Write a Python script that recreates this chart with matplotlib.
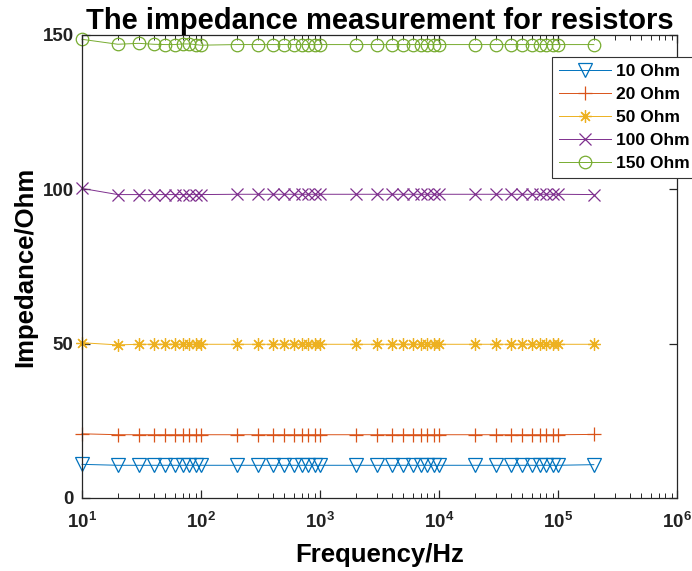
import matplotlib
matplotlib.use("Agg")
import matplotlib.pyplot as plt
import numpy as np
from matplotlib.ticker import FixedLocator, FuncFormatter, LogLocator, NullFormatter

plt.rcParams['font.family'] = ['Liberation Sans', 'DejaVu Sans']
plt.rcParams['font.weight'] = 'bold'
plt.rcParams['mathtext.fontset'] = 'custom'
plt.rcParams['mathtext.rm'] = 'Liberation Sans:bold'
plt.rcParams['mathtext.bf'] = 'Liberation Sans:bold'

# Measurement frequencies (Hz)
freq = [10, 20, 30, 40, 50, 60, 70, 80, 90, 100,
        200, 300, 400, 500, 600, 700, 800, 900, 1000,
        2000, 3000, 4000, 5000, 6000, 7000, 8000, 9000, 10000,
        20000, 30000, 40000, 50000, 60000, 70000, 80000, 90000, 100000,
        200000]

# Measured impedance (Ohm) for each resistor
z_10 = [10.9] + [10.6] * 36 + [10.8]
z_20 = [20.8] + [20.5] * 36 + [20.6]
z_50 = [50.3] + [49.6] + [49.8] * 35 + [49.8]
z_100 = [100.3] + [98.3] * 9 + [98.4] * 27 + [98.3]
z_150 = [148.6, 147.0, 147.3, 147.0, 146.9, 146.9, 147.1, 147.1, 146.9, 146.7] + [146.9] * 27 + [146.9]

labels = ['10 Ohm', '20 Ohm', '50 Ohm', '100 Ohm', '150 Ohm']
series = [z_10, z_20, z_50, z_100, z_150]
colors = ['#0072BD', '#D95319', '#EDB120', '#7E2F8E', '#77AC30']
markers = ['v', '+', (8, 2, 0), 'x', 'o']
msizes = [10, 10, 9, 8, 9]

fig = plt.figure(figsize=(6.92, 5.71), dpi=100)
ax = fig.add_axes([82 / 692, 1 - 498 / 571, (677 - 82) / 692, (498 - 35) / 571])

for y, lab, c, m, ms in zip(series, labels, colors, markers, msizes):
    ax.plot(freq, y, color=c, marker=m, markersize=ms, linewidth=0.7,
            markerfacecolor='none', markeredgewidth=0.9, label=lab, clip_on=False)

ax.set_xscale('log')
ax.set_xlim(10, 1e6)
ax.set_ylim(0, 150)
ax.yaxis.set_major_locator(FixedLocator([0, 50, 100, 150]))
ax.xaxis.set_major_locator(LogLocator(base=10, numticks=10))
ax.xaxis.set_minor_locator(LogLocator(base=10, subs=np.arange(2, 10), numticks=20))
ax.xaxis.set_minor_formatter(NullFormatter())
ax.xaxis.set_major_formatter(FuncFormatter(lambda v, p: r'$\mathbf{10^{%d}}$' % round(np.log10(v))))

axc = '#262626'
for s in ax.spines.values():
    s.set_color(axc)
    s.set_linewidth(0.9)
ax.tick_params(which='both', direction='in', top=True, right=True, colors=axc,
               labelcolor='#222222', labelsize=13.5)
ax.tick_params(which='major', length=6, width=0.9)
ax.tick_params(which='minor', length=3.5, width=0.7)
ax.tick_params(axis='x', which='major', pad=10)
ax.tick_params(axis='y', which='major', pad=6)
for t in ax.get_yticklabels():
    t.set_fontweight('bold')

ax.set_title('The impedance measurement for resistors', fontsize=21, fontweight='bold', pad=3)
ax.set_xlabel('Frequency/Hz', fontsize=18.5, fontweight='bold', labelpad=8)
ax.set_ylabel('Impedance/Ohm', fontsize=18.5, fontweight='bold', labelpad=4)

leg = fig.legend(loc='upper left', bbox_to_anchor=(552 / 692, 1 - 57 / 571),
                 prop={'weight': 'bold', 'size': 12.5},
                 fancybox=False, framealpha=1, edgecolor='#333333',
                 handlelength=3.0, handletextpad=0.3, labelspacing=0.45,
                 borderpad=0.4, borderaxespad=0)
leg.get_frame().set_linewidth(0.8)

fig.savefig('out.png', dpi=100)
